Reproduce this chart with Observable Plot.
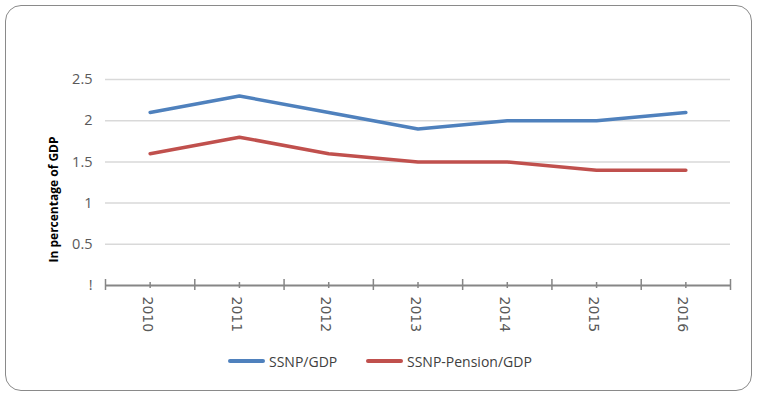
<!DOCTYPE html>
<html><head><meta charset="utf-8">
<script src="https://cdn.jsdelivr.net/npm/d3@7"></script>
<script src="https://cdn.jsdelivr.net/npm/@observablehq/plot@0.6"></script>
<style>
body{margin:0;background:#fff;}
#wrap{position:relative;width:765px;height:398px;overflow:hidden;background:#fff;}
#frame{position:absolute;left:5px;top:5px;width:745px;height:384px;border:1.5px solid #8a8a8a;border-radius:16px;}
#chart{position:absolute;left:0;top:0;}
#legend{position:absolute;top:350px;left:228px;height:22px;font-family:"Open Sans",sans-serif;font-size:14px;color:#404040;}
.item{position:absolute;top:0;display:flex;align-items:center;white-space:nowrap;height:22px;}
.sw{width:37px;height:3.5px;margin-right:4px;border-radius:2px;}
</style></head>
<body>
<div id="wrap"><div id="frame"></div><div id="chart"></div><div id="legend"></div></div>
<script>
const years = [2010, 2011, 2012, 2013, 2014, 2015, 2016];
const ssnp = [2.1, 2.3, 2.1, 1.9, 2.0, 2.0, 2.1];
const ssnpPension = [1.6, 1.8, 1.6, 1.5, 1.5, 1.4, 1.4];
const yTicks = [0, 0.5, 1, 1.5, 2, 2.5];
const yTickLabels = ["!", "0.5", "1", "1.5", "2", "2.5"];
const seriesNames = ["SSNP/GDP", "SSNP-Pension/GDP"];
const seriesColors = ["#4f81bd", "#c0504d"];
const yLabel = "In percentage of GDP";

const rows = [];
years.forEach((yr, i) => {
  rows.push({year: yr, value: ssnp[i], series: seriesNames[0]});
  rows.push({year: yr, value: ssnpPension[i], series: seriesNames[1]});
});
const bounds = years.map(y => y - 0.5).concat([years[years.length - 1] + 0.5]);

const chart = Plot.plot({
  width: 765, height: 340,
  marginLeft: 105, marginRight: 35, marginTop: 79, marginBottom: 55,
  style: {color: "#595959", fontFamily: "'Open Sans', sans-serif", background: "transparent"},
  x: {type: "linear", domain: [bounds[0], bounds[bounds.length - 1]]},
  y: {domain: [0, 2.5]},
  color: {domain: seriesNames, range: seriesColors},
  marks: [
    Plot.ruleY(yTicks.filter(d => d > 0), {stroke: "#d9d9d9", strokeWidth: 1.5}),
    Plot.axisY({ticks: yTicks, tickFormat: d => yTickLabels[yTicks.indexOf(d)], tickSize: 0, tickPadding: 13, label: null, fontSize: 14.5}),
    Plot.ruleY([0], {stroke: "#868686", strokeWidth: 2}),
    Plot.ruleX(bounds, {x: d => d, y1: 0, y2: 0, insetTop: 5, insetBottom: 6, stroke: "#868686", strokeWidth: 1.5}),
    Plot.ruleX(years, {x: d => d, y1: 0, y2: 0, insetTop: 3, insetBottom: 3, stroke: "#868686", strokeWidth: 1.5}),
    Plot.axisX({ticks: years, tickFormat: d => String(d), tickSize: 0, tickPadding: 11, tickRotate: 90, dx: -3, label: null, fontSize: 14, fontFamily: "'DejaVu Sans', sans-serif"}),
    Plot.line(rows, {x: "year", y: "value", z: "series", stroke: "series", strokeWidth: 3.5}),
    Plot.text([yLabel], {frameAnchor: "left", textAnchor: "middle", dx: -51, dy: 17, rotate: -90, fontWeight: "bold", fontSize: 12, fill: "#000"})
  ]
});
document.getElementById("chart").appendChild(chart);

const legend = document.getElementById("legend");
const offsets = [0, 138];
seriesNames.forEach((name, i) => {
  const it = document.createElement("div");
  it.className = "item";
  it.style.left = offsets[i] + "px";
  const sw = document.createElement("div");
  sw.className = "sw";
  sw.style.background = seriesColors[i];
  const tx = document.createElement("span");
  tx.textContent = name;
  it.appendChild(sw); it.appendChild(tx);
  legend.appendChild(it);
});
</script>
</body></html>
